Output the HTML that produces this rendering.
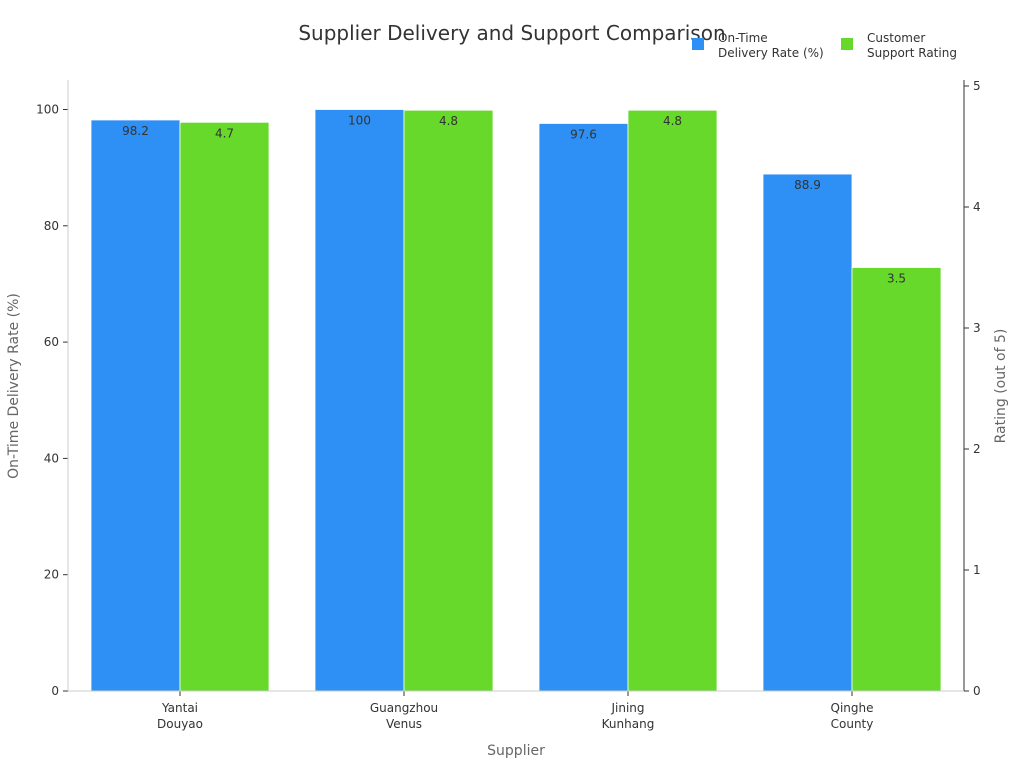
<!DOCTYPE html>
<html><head><meta charset="utf-8"><style>
body{margin:0;background:#fff;font-family:"Liberation Sans","DejaVu Sans",sans-serif}
</style></head><body>
<svg id="chart" width="1024" height="768" xmlns="http://www.w3.org/2000/svg" font-family="DejaVu Sans, Liberation Sans, sans-serif">
<text x="512" y="40" text-anchor="middle" font-size="20" fill="#333">Supplier Delivery and Support Comparison</text>
<g>
<rect x="692" y="38" width="12" height="12" fill="#2e90f5"/>
<text x="718" y="42" font-size="12" fill="#333">On-Time</text>
<text x="718" y="57" font-size="12" fill="#333">Delivery Rate (%)</text>
<rect x="841" y="38" width="12" height="12" fill="#66d92a"/>
<text x="867" y="42" font-size="12" fill="#333">Customer</text>
<text x="867" y="57" font-size="12" fill="#333">Support Rating</text>
</g>
<g id="marks"></g>
<line x1="68" y1="80" x2="68" y2="691" stroke="#ccc"/>
<line x1="964" y1="80" x2="964" y2="691" stroke="#333"/>
<line x1="68" y1="691" x2="964" y2="691" stroke="#ccc"/>
<text transform="translate(18,386) rotate(-90)" text-anchor="middle" font-size="14" fill="#666">On-Time Delivery Rate (%)</text>
<text transform="translate(1005,386) rotate(-90)" text-anchor="middle" font-size="14" fill="#666">Rating (out of 5)</text>
<text x="516" y="755" text-anchor="middle" font-size="14" fill="#666">Supplier</text>
</svg>
<script>
const categories=[["Yantai","Douyao"],["Guangzhou","Venus"],["Jining","Kunhang"],["Qinghe","County"]];
const delivery=[98.2,100,97.6,88.9];
const rating=[4.7,4.8,4.8,3.5];
const leftTicks=[0,20,40,60,80,100];
const rightTicks=[0,1,2,3,4,5];
const NS="http://www.w3.org/2000/svg";
const svg=document.getElementById('marks');
const y0=691,yL=v=>y0-v*5.815,yR=v=>y0-v*121;
const x0=68,x1=964,band=(x1-x0)/categories.length,bw=89;
function mk(t,a){const e=document.createElementNS(NS,t);for(const k in a)e.setAttribute(k,a[k]);svg.appendChild(e);return e;}
leftTicks.forEach(v=>{
 const l=mk('line',{x1:63,x2:68,y1:yL(v),y2:yL(v),stroke:'#333'});
 
 
 const t=mk('text',{x:59,y:yL(v)+4,'text-anchor':'end','font-size':12,fill:'#333'});t.textContent=v;
 
 
});
rightTicks.forEach(v=>{
 const l=mk('line',{x1:964,x2:969,y1:yR(v),y2:yR(v),stroke:'#333'});
 
 
 const t=mk('text',{x:973,y:yR(v)+4,'font-size':12,fill:'#333'});t.textContent=v;
 
 
});
categories.forEach((c,i)=>{
 const cx=x0+band*(i+0.5);
 const b1=mk('rect',{x:cx-bw,y:yL(delivery[i]),width:bw,height:y0-yL(delivery[i]),fill:'#2e90f5',stroke:'#fff','stroke-width':0.8});
 
 
 const b2=mk('rect',{x:cx,y:yR(rating[i]),width:bw,height:y0-yR(rating[i]),fill:'#66d92a',stroke:'#fff','stroke-width':0.8});
 
 
 const t1=mk('text',{x:cx-bw/2,y:yL(delivery[i])+15,'text-anchor':'middle','font-size':12,fill:'#333'});t1.textContent=delivery[i];
 
 
 const t2=mk('text',{x:cx+bw/2,y:yR(rating[i])+15,'text-anchor':'middle','font-size':12,fill:'#333'});t2.textContent=rating[i];
 
 
 const tk=mk('line',{x1:cx,x2:cx,y1:691,y2:696,stroke:'#333'});
 
 
 c.forEach((s,j)=>{const t=mk('text',{x:cx,y:712+j*16,'text-anchor':'middle','font-size':12,fill:'#333'});t.textContent=s;
 
 });
});
</script>
</body></html>
